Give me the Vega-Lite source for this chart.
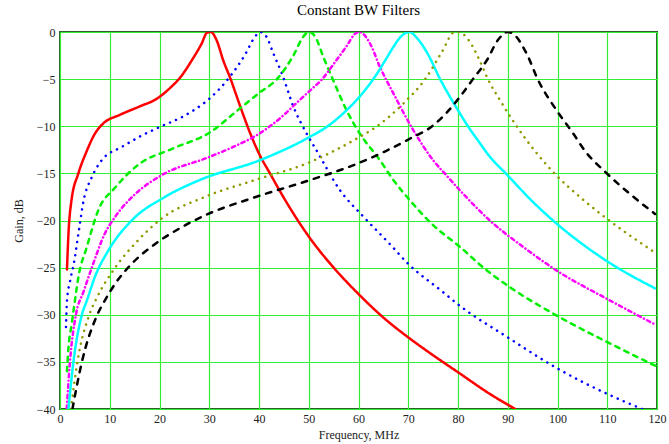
{
  "$schema": "https://vega.github.io/schema/vega-lite/v6.json",
  "autosize": {"type": "none"},
  "padding": {"left": 60, "top": 32, "right": 12, "bottom": 35},
  "width": 597,
  "height": 377,
  "background": "white",
  "config": {
    "view": {"stroke": "#2e5e2e", "strokeWidth": 2},
    "font": "Liberation Serif"
  },
  "title": {"text": "Constant BW Filters", "font": "Liberation Serif", "fontSize": 15, "fontWeight": "normal", "color": "#000000", "offset": 8, "anchor": "middle"},
  "data": {"values": [
    {"s":"f30","f":1.4,"g":-25.2},{"s":"f30","f":1.7,"g":-21.4},{"s":"f30","f":2.3,"g":-17.9},{"s":"f30","f":3.7,"g":-15},{"s":"f30","f":5.4,"g":-12.6},{"s":"f30","f":7,"g":-10.8},{"s":"f30","f":8.7,"g":-9.7},{"s":"f30","f":12,"g":-8.8},{"s":"f30","f":16,"g":-7.9},{"s":"f30","f":19.4,"g":-7.1},{"s":"f30","f":22,"g":-6.0},{"s":"f30","f":24.5,"g":-4.6},{"s":"f30","f":26.5,"g":-3.0},{"s":"f30","f":28.5,"g":-1.2},{"s":"f30","f":29.5,"g":-0.1},{"s":"f30","f":30.3,"g":0},{"s":"f30","f":31.5,"g":-0.9},{"s":"f30","f":32.8,"g":-3.0},{"s":"f30","f":34.3,"g":-5.0},{"s":"f30","f":35.5,"g":-6.8},{"s":"f30","f":36.5,"g":-8.3},{"s":"f30","f":38.5,"g":-11.1},{"s":"f30","f":40,"g":-12.9},{"s":"f30","f":42.2,"g":-15},{"s":"f30","f":45,"g":-17.6},{"s":"f30","f":50,"g":-21.7},{"s":"f30","f":55,"g":-25},{"s":"f30","f":60,"g":-27.8},{"s":"f30","f":65,"g":-30.3},{"s":"f30","f":70,"g":-32.4},{"s":"f30","f":75,"g":-34.3},{"s":"f30","f":80,"g":-36.1},{"s":"f30","f":86.4,"g":-38.4},{"s":"f30","f":91.5,"g":-40},
    {"s":"f40","f":1.2,"g":-31.3},{"s":"f40","f":1.4,"g":-28.5},{"s":"f40","f":2.0,"g":-26.5},{"s":"f40","f":2.8,"g":-24.5},{"s":"f40","f":3.7,"g":-21.4},{"s":"f40","f":4.7,"g":-18},{"s":"f40","f":6.4,"g":-15.4},{"s":"f40","f":8.4,"g":-13.6},{"s":"f40","f":12.4,"g":-12.2},{"s":"f40","f":16.4,"g":-11.0},{"s":"f40","f":20.4,"g":-10.0},{"s":"f40","f":24.6,"g":-9.0},{"s":"f40","f":28.8,"g":-7.6},{"s":"f40","f":30.2,"g":-7.0},{"s":"f40","f":34.2,"g":-4.7},{"s":"f40","f":37.2,"g":-2.4},{"s":"f40","f":39.2,"g":-0.5},{"s":"f40","f":40.2,"g":0},{"s":"f40","f":41.5,"g":-0.5},{"s":"f40","f":42.9,"g":-2.3},{"s":"f40","f":44.6,"g":-4.4},{"s":"f40","f":46.9,"g":-7.9},{"s":"f40","f":49.6,"g":-10.8},{"s":"f40","f":51.6,"g":-12.6},{"s":"f40","f":56.3,"g":-16.8},{"s":"f40","f":61,"g":-19.6},{"s":"f40","f":66.3,"g":-22.5},{"s":"f40","f":70,"g":-24.6},{"s":"f40","f":77,"g":-27.6},{"s":"f40","f":80,"g":-28.9},{"s":"f40","f":90,"g":-32.4},{"s":"f40","f":100,"g":-35.7},{"s":"f40","f":110,"g":-38.4},{"s":"f40","f":117,"g":-40},
    {"s":"f50","f":1.4,"g":-36},{"s":"f50","f":1.7,"g":-33.5},{"s":"f50","f":2.35,"g":-31},{"s":"f50","f":3.0,"g":-28.5},{"s":"f50","f":3.7,"g":-26},{"s":"f50","f":5.4,"g":-22.8},{"s":"f50","f":7.7,"g":-18.9},{"s":"f50","f":11.1,"g":-16.5},{"s":"f50","f":15.7,"g":-14.1},{"s":"f50","f":22.5,"g":-12.4},{"s":"f50","f":30.3,"g":-10.6},{"s":"f50","f":35.5,"g":-8.4},{"s":"f50","f":40.2,"g":-6.4},{"s":"f50","f":43.6,"g":-5},{"s":"f50","f":46.9,"g":-2.5},{"s":"f50","f":48.9,"g":-0.5},{"s":"f50","f":50,"g":0},{"s":"f50","f":51.3,"g":-0.5},{"s":"f50","f":52.9,"g":-2.6},{"s":"f50","f":54.9,"g":-5.1},{"s":"f50","f":57.6,"g":-8.3},{"s":"f50","f":60.3,"g":-10.8},{"s":"f50","f":64.3,"g":-13.6},{"s":"f50","f":67,"g":-15.7},{"s":"f50","f":70.4,"g":-17.9},{"s":"f50","f":75,"g":-20.5},{"s":"f50","f":80.4,"g":-22.8},{"s":"f50","f":85.1,"g":-25},{"s":"f50","f":90.5,"g":-27.1},{"s":"f50","f":99.2,"g":-29.9},{"s":"f50","f":110,"g":-32.9},{"s":"f50","f":120,"g":-35.5},
    {"s":"f60","f":1.35,"g":-40},{"s":"f60","f":2.0,"g":-35},{"s":"f60","f":3.2,"g":-30},{"s":"f60","f":4.7,"g":-27.6},{"s":"f60","f":6.4,"g":-25},{"s":"f60","f":9.0,"g":-21.4},{"s":"f60","f":11.1,"g":-19.6},{"s":"f60","f":15.1,"g":-17.2},{"s":"f60","f":20.4,"g":-15.2},{"s":"f60","f":29.8,"g":-13.3},{"s":"f60","f":34.8,"g":-12.2},{"s":"f60","f":40,"g":-10.8},{"s":"f60","f":42.2,"g":-10},{"s":"f60","f":45,"g":-8.8},{"s":"f60","f":48,"g":-7.3},{"s":"f60","f":50.5,"g":-6.1},{"s":"f60","f":52.7,"g":-5},{"s":"f60","f":55,"g":-3.4},{"s":"f60","f":57.6,"g":-1.5},{"s":"f60","f":59.3,"g":-0.2},{"s":"f60","f":60.2,"g":0},{"s":"f60","f":62.3,"g":-1.2},{"s":"f60","f":64.3,"g":-3.7},{"s":"f60","f":67,"g":-6.5},{"s":"f60","f":71,"g":-10.4},{"s":"f60","f":75,"g":-13.6},{"s":"f60","f":78,"g":-15.4},{"s":"f60","f":81.1,"g":-17.2},{"s":"f60","f":86.4,"g":-20},{"s":"f60","f":93.1,"g":-22.8},{"s":"f60","f":99.8,"g":-25.3},{"s":"f60","f":109.9,"g":-28.3},{"s":"f60","f":119.5,"g":-31},
    {"s":"f70","f":1.7,"g":-40},{"s":"f70","f":2.7,"g":-35},{"s":"f70","f":4.4,"g":-30},{"s":"f70","f":5.4,"g":-28.5},{"s":"f70","f":7.0,"g":-26},{"s":"f70","f":9.7,"g":-23.2},{"s":"f70","f":14.4,"g":-20},{"s":"f70","f":21.1,"g":-17.5},{"s":"f70","f":28.1,"g":-15.7},{"s":"f70","f":40.2,"g":-13.6},{"s":"f70","f":50.3,"g":-11.1},{"s":"f70","f":53.8,"g":-10},{"s":"f70","f":57,"g":-8.6},{"s":"f70","f":60,"g":-7.0},{"s":"f70","f":62,"g":-5.7},{"s":"f70","f":64,"g":-4.2},{"s":"f70","f":65.5,"g":-2.9},{"s":"f70","f":67,"g":-1.6},{"s":"f70","f":68.5,"g":-0.5},{"s":"f70","f":70.2,"g":0},{"s":"f70","f":72,"g":-0.8},{"s":"f70","f":74,"g":-2.4},{"s":"f70","f":76.4,"g":-5},{"s":"f70","f":78.3,"g":-6.8},{"s":"f70","f":80,"g":-8.3},{"s":"f70","f":82,"g":-10},{"s":"f70","f":84,"g":-11.5},{"s":"f70","f":86.5,"g":-13.3},{"s":"f70","f":89.6,"g":-15},{"s":"f70","f":95,"g":-18},{"s":"f70","f":99.1,"g":-20},{"s":"f70","f":109.9,"g":-24.3},{"s":"f70","f":119.6,"g":-27.2},
    {"s":"f80","f":2.2,"g":-40},{"s":"f80","f":3.5,"g":-35},{"s":"f80","f":5.9,"g":-30},{"s":"f80","f":7.4,"g":-28.2},{"s":"f80","f":11.1,"g":-25},{"s":"f80","f":15.7,"g":-22.1},{"s":"f80","f":20.4,"g":-19.8},{"s":"f80","f":29.1,"g":-17.5},{"s":"f80","f":39.2,"g":-15.7},{"s":"f80","f":50.3,"g":-13.8},{"s":"f80","f":59,"g":-11.5},{"s":"f80","f":63.7,"g":-10},{"s":"f80","f":69,"g":-7.6},{"s":"f80","f":73.4,"g":-5},{"s":"f80","f":77,"g":-1.9},{"s":"f80","f":79,"g":-0.1},{"s":"f80","f":80,"g":0},{"s":"f80","f":81,"g":-0.2},{"s":"f80","f":82.8,"g":-1.4},{"s":"f80","f":84.5,"g":-3.2},{"s":"f80","f":86.1,"g":-5.1},{"s":"f80","f":88.4,"g":-7.2},{"s":"f80","f":91.8,"g":-10},{"s":"f80","f":99.2,"g":-14.9},{"s":"f80","f":104.5,"g":-17.5},{"s":"f80","f":109.9,"g":-19.8},{"s":"f80","f":119.6,"g":-23.4},
    {"s":"f90","f":2.5,"g":-40},{"s":"f90","f":4.4,"g":-35},{"s":"f90","f":7.5,"g":-30},{"s":"f90","f":9,"g":-28.5},{"s":"f90","f":11.1,"g":-26.7},{"s":"f90","f":14.4,"g":-24.6},{"s":"f90","f":19.1,"g":-22.5},{"s":"f90","f":24.5,"g":-20.7},{"s":"f90","f":29.8,"g":-19.3},{"s":"f90","f":38.2,"g":-17.7},{"s":"f90","f":50.3,"g":-15.7},{"s":"f90","f":59.6,"g":-14.0},{"s":"f90","f":65.6,"g":-12.6},{"s":"f90","f":70.4,"g":-11.3},{"s":"f90","f":74.8,"g":-10},{"s":"f90","f":78,"g":-8.4},{"s":"f90","f":80.5,"g":-6.8},{"s":"f90","f":83,"g":-5},{"s":"f90","f":85.8,"g":-3.0},{"s":"f90","f":88.1,"g":-0.8},{"s":"f90","f":90,"g":0},{"s":"f90","f":91.1,"g":-0.2},{"s":"f90","f":93.8,"g":-2.3},{"s":"f90","f":96.1,"g":-5.1},{"s":"f90","f":99.8,"g":-8.3},{"s":"f90","f":103.2,"g":-10.8},{"s":"f90","f":105.5,"g":-12.6},{"s":"f90","f":109.9,"g":-15.0},{"s":"f90","f":114.6,"g":-17.2},{"s":"f90","f":119.6,"g":-19.3}
  ]},
  "mark": {"type": "line", "interpolate": "monotone", "strokeWidth": 2.5, "strokeCap": "round", "clip": true},
  "encoding": {
    "x": {"field": "f", "type": "quantitative",
      "scale": {"domain": [0, 120], "nice": false, "zero": false},
      "axis": {"title": "Frequency, MHz", "values": [0,10,20,30,40,50,60,70,80,90,100,110,120], "domain": false, "ticks": false, "grid": true, "gridColor": "#33ee33", "gridWidth": 1.2, "gridOpacity": 1, "labelFlush": false, "labelFont": "Liberation Serif", "labelFontSize": 12, "labelColor": "#222222", "labelPadding": 4, "titleFont": "Liberation Serif", "titleFontSize": 12, "titleFontWeight": "normal", "titleColor": "#222222", "titlePadding": 5}},
    "y": {"field": "g", "type": "quantitative",
      "scale": {"domain": [-40, 0], "nice": false, "zero": false},
      "axis": {"title": "Gain, dB", "values": [-40,-35,-30,-25,-20,-15,-10,-5,0], "domain": false, "ticks": false, "grid": true, "gridColor": "#33ee33", "gridWidth": 1.2, "gridOpacity": 1, "labelFlush": false, "labelFont": "Liberation Serif", "labelFontSize": 12, "labelColor": "#222222", "labelPadding": 5, "titleFont": "Liberation Serif", "titleFontSize": 12, "titleFontWeight": "normal", "titleColor": "#222222", "titlePadding": 11}},
    "color": {"field": "s", "type": "nominal", "legend": null,
      "scale": {"domain": ["f30","f40","f50","f60","f70","f80","f90"], "range": ["#ff0000","#0000ff","#00ee00","#ff00ff","#00ffff","#8f9900","#000000"]}},
    "strokeDash": {"field": "s", "type": "nominal", "legend": null,
      "scale": {"domain": ["f30","f40","f50","f60","f70","f80","f90"], "range": [[1,0],[0.1,6.5],[4.5,5.5],[3.5,3.5,0.1,3.5],[1,0],[0.1,6.5],[5.5,7]]}},
    "order": {"field": "f", "type": "quantitative"}
  }
}
